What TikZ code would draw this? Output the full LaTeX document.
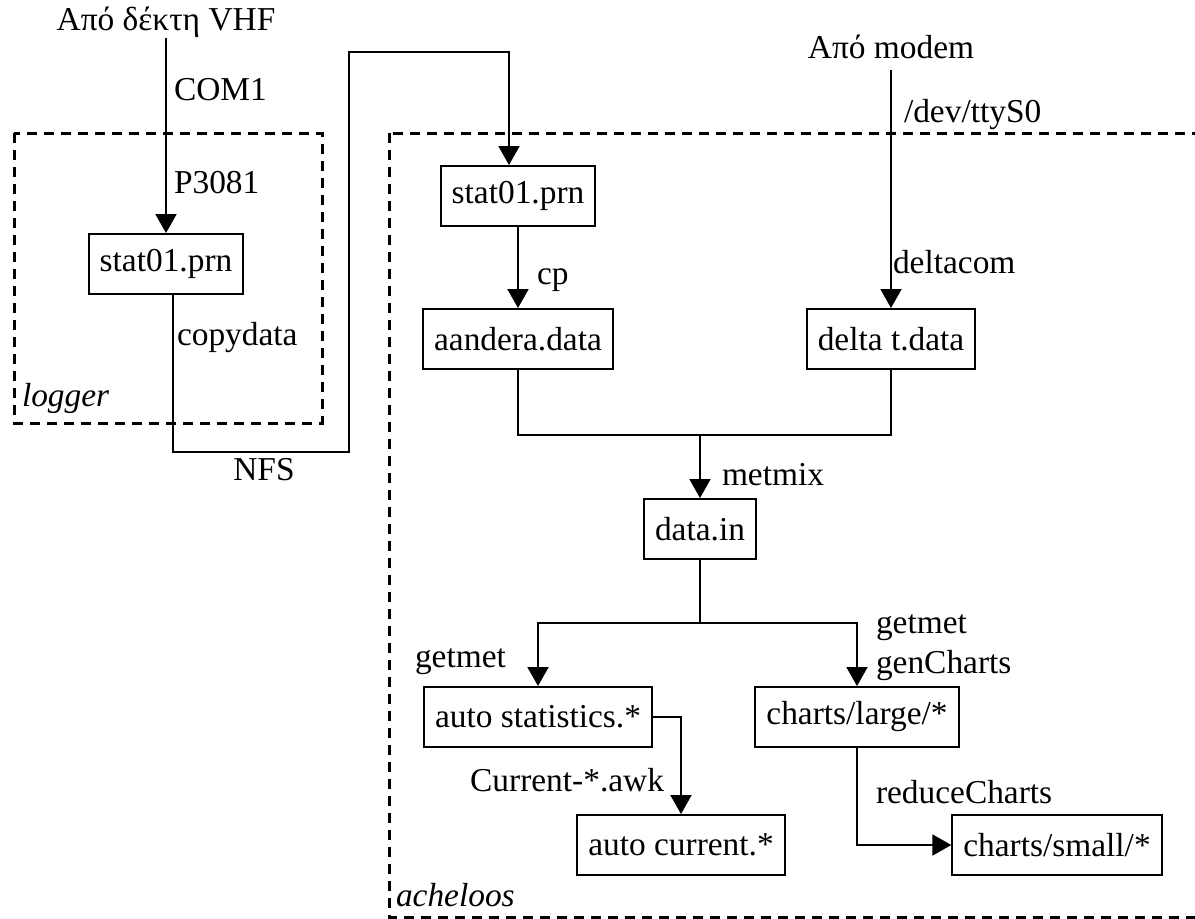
\documentclass[tikz,border=0pt]{standalone}
\usepackage{fontspec}
\setmainfont{Liberation Serif}
\usetikzlibrary{arrows.meta}
\newcommand{\figfont}{\fontsize{16.7}{20}\selectfont}

\begin{document}
\begin{tikzpicture}[x=0.5pt,y=-0.5pt,
    line width=1pt,
    font=\figfont,
    >={Triangle[length=9.5pt,width=10.5pt]},
    file/.style={rectangle,draw,minimum height=30pt,inner xsep=5.5pt},
    lbl/.style={inner sep=0pt},
    host/.style={draw,line width=1.5pt,dash pattern=on 5pt off 3.5pt}
    ]
\useasboundingbox (0,0) rectangle (1195,918);
\draw[host] (14,133) rectangle (322,423);
\draw[host] (389,133) rectangle (1210,917);
\node[lbl] (VHF) at (166,22) {Από δέκτη VHF};
\node[file] (LS) at (166,264) {stat01.prn};
\node[file] (AS) at (518,196) {stat01.prn};
\node[file] (AD) at (518,339) {aandera.data};
\node[lbl,inner ysep=5pt] (MOD) at (891,47) {Από modem};
\node[file] (DT) at (891,339) {delta t.data};
\node[file] (DI) at (700,529) {data.in};
\node[file] (ST) at (538,717) {auto statistics.*};
\node[file] (CL) at (857,717) {charts/large/*};
\node[file] (AC) at (681,845) {auto current.*};
\node[file] (CS) at (1057,845) {charts/small/*};
\coordinate (n1) at (349,452);
\coordinate (n2) at (349,52);
\coordinate (j) at (700,435);
\coordinate (k) at (700,623);
\draw[->] (VHF) -- (LS);
\draw[->] ([xshift=3.5pt]LS.south) |- (n1) -- (n2) -| ([xshift=-4.5pt]AS.north);
\draw[->] (AS) -- (AD);
\draw[->] (MOD) -- (DT);
\draw (AD) |- (j) -| (DT);
\draw[->] (j) -- (DI);
\draw (DI) -- (k);
\draw[->] (k) -| (ST);
\draw[->] (k) -| (CL);
\draw[->] (ST) -| (AC);
\draw[->] (CL) |- (CS);
\node[lbl,anchor=west] (com) at (173,90) {COM1};
\node[lbl,anchor=west] (prt) at (173,183) {P3081};
\node[lbl,anchor=west] (cpd) at (176,338) {copydata};
\node[lbl] (nfs) at (264,470) {NFS};
\node[lbl,anchor=west,font=\figfont\itshape] (lg) at (21,398) {logger};
\node[lbl,anchor=west] (cp) at (536,280) {cp};
\node[lbl,anchor=west] (tty) at (903,115) {/dev/ttyS0};
\node[lbl,anchor=west] (dc) at (892,262) {deltacom};
\node[lbl,anchor=west] (mm) at (721,475) {metmix};
\node[lbl,anchor=west] (gm) at (414,662) {getmet};
\node[lbl,anchor=west,align=left] (gc) at (875,648) {getmet\\genCharts};
\node[lbl,anchor=east] (awk) at (665,780) {Current-*.awk};
\node[lbl,anchor=west] (rc) at (875,792) {reduceCharts};
\node[lbl,anchor=west,font=\figfont\itshape] (ach) at (395,895) {acheloos};
\end{tikzpicture}
\end{document}
